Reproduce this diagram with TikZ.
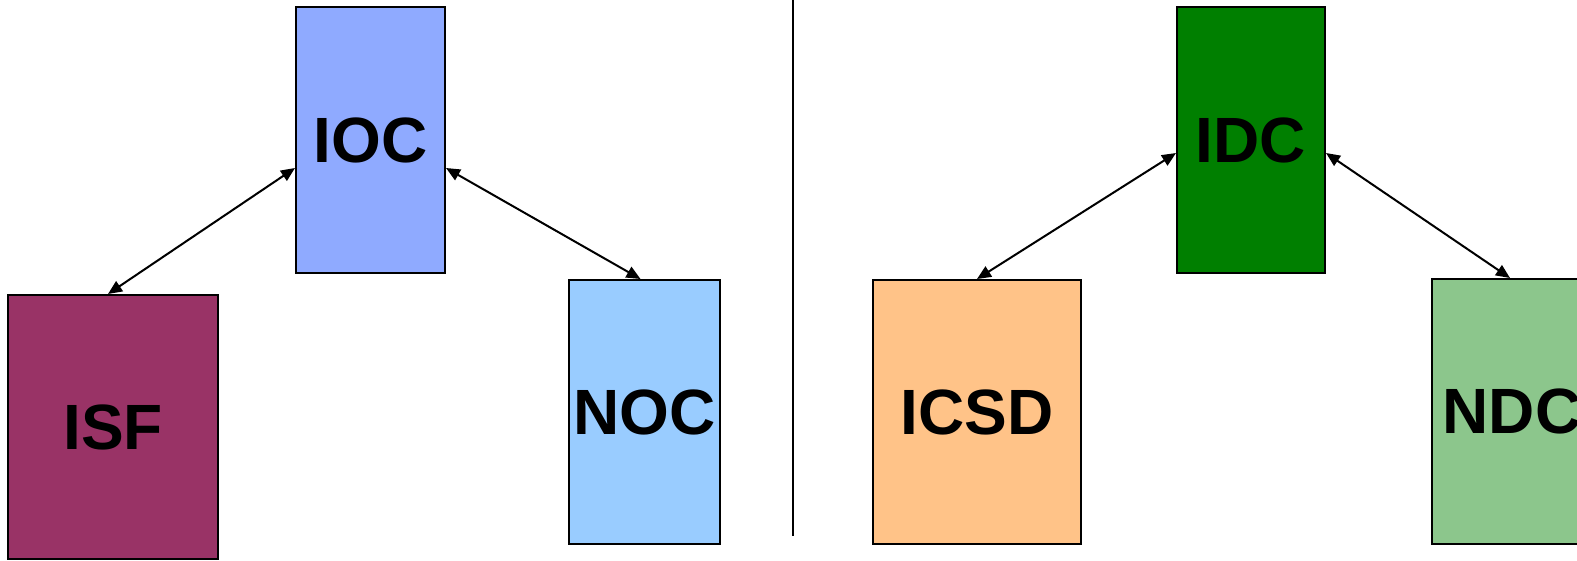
\documentclass[tikz,border=0pt]{standalone}
\usepackage{fontspec}
\setmainfont{Liberation Sans}
\usetikzlibrary{arrows.meta}
\definecolor{cIOC}{HTML}{8FAAFF}
\definecolor{cNOC}{HTML}{99CCFF}
\definecolor{cISF}{HTML}{993366}
\definecolor{cIDC}{HTML}{007F00}
\definecolor{cICSD}{HTML}{FFC388}
\definecolor{cNDC}{HTML}{8CC68C}
\tikzset{
  blockbox/.style={draw=black, line width=2pt, rectangle, inner sep=0pt,
    font=\fontsize{64}{64}\selectfont\bfseries},
  link/.style={line width=2pt, {Triangle[length=14pt,width=12pt]}-{Triangle[length=14pt,width=12pt]}},
  divider/.style={line width=2pt}
}
\begin{document}
\begin{tikzpicture}[x=1pt,y=-1pt]
\useasboundingbox (0,0) rectangle (1577,560);
\clip (0,0) rectangle (1577,560);
\node[blockbox, fill=cIOC, minimum width=149pt, minimum height=266pt] (ioc) at (370.5,140) {IOC};
\node[blockbox, fill=cISF, minimum width=210pt, minimum height=264pt] (isf) at (113,427) {ISF};
\node[blockbox, fill=cNOC, minimum width=151pt, minimum height=264pt] (noc) at (644.5,412) {NOC};
\node[blockbox, fill=cIDC, minimum width=148pt, minimum height=266pt] (idc) at (1251,140) {IDC};
\node[blockbox, fill=cICSD, minimum width=208pt, minimum height=264pt] (icsd) at (977,412) {ICSD};
\node[blockbox, fill=cNDC, minimum width=160pt, minimum height=265pt] (ndc) at (1512,411.5) {NDC};
\coordinate (dtop) at (793,0);
\coordinate (dbot) at (793,536);
\draw[divider] (dtop) -- (dbot);
\draw[link] ([xshift=-5pt]isf.north) -- ([yshift=-28pt]ioc.west);
\draw[link] ([yshift=-28pt]ioc.east) -- ([xshift=-4pt]noc.north);
\draw[link] (icsd.north) -- ([yshift=-13pt]idc.west);
\draw[link] ([yshift=-13pt]idc.east) -- ([xshift=-2pt]ndc.north);
\end{tikzpicture}
\end{document}
